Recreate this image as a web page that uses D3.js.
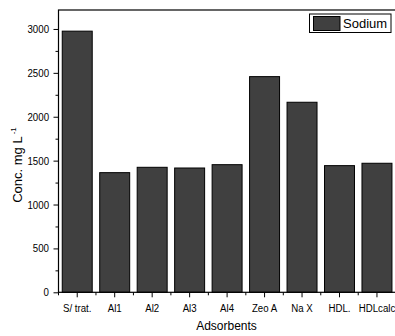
<!DOCTYPE html>
<html>
<head>
<meta charset="utf-8">
<script src="https://cdn.jsdelivr.net/npm/d3@7"></script>
<style>
  html, body { margin: 0; padding: 0; background: #fff; }
  svg { display: block; }
  .tick-label { font-family: "Liberation Sans", Arial, sans-serif; font-size: 11px; fill: #000; }
  .title { font-family: "Liberation Sans", Arial, sans-serif; font-size: 12px; fill: #000; }
</style>
</head>
<body>
<svg id="chart" width="395" height="336"></svg>
<script>
// Sodium concentration remaining after treatment with each adsorbent
const categories = ["S/ trat.", "Al1", "Al2", "Al3", "Al4", "Zeo A", "Na X", "HDL.", "HDLcalc"];
const sodium = [2975, 1363, 1424, 1416, 1454, 2457, 2165, 1443, 1470];
const yTicks = [0, 500, 1000, 1500, 2000, 2500, 3000];
const yMinorTicks = [250, 750, 1250, 1750, 2250, 2750];
const yMax = 3216;
const seriesName = "Sodium";

const svg = d3.select("#chart");
const plot = { left: 58.5, right: 395.7, top: 10, bottom: 292.3 };
const barFill = "#404040";
const squeeze = 0.88; // condensed look for tick labels

const x = d3.scaleBand().domain(categories).range([plot.left, plot.right]).paddingInner(0.2).paddingOuter(0.1);
const y = d3.scaleLinear().domain([0, yMax]).range([plot.bottom, plot.top]);

// bars
svg.append("g").selectAll("rect").data(categories).join("rect")
  .attr("x", (d) => x(d))
  .attr("y", (d, i) => y(sodium[i]))
  .attr("width", x.bandwidth())
  .attr("height", (d, i) => y(0) - y(sodium[i]))
  .attr("fill", barFill)
  .attr("stroke", "#000")
  .attr("stroke-width", 1);

// frame
svg.append("rect")
  .attr("x", plot.left).attr("y", plot.top)
  .attr("width", plot.right - plot.left).attr("height", plot.bottom - plot.top)
  .attr("fill", "none").attr("stroke", "#000").attr("stroke-width", 1.2);

// y axis: major ticks with labels, minor ticks between
const yAxis = svg.append("g").attr("transform", `translate(${plot.left},0)`);
yAxis.append("g")
  .call(d3.axisLeft(y).tickValues(yTicks).tickSize(5).tickPadding(4).tickFormat(d3.format("d")))
  .call((g) => g.select(".domain").remove())
  .call((g) => g.selectAll("text")
    .attr("class", "tick-label").attr("font-family", null).attr("font-size", null)
    .attr("x", -9.5 / squeeze)
    .attr("transform", `scale(${squeeze},1)`));
yAxis.append("g")
  .call(d3.axisLeft(y).tickValues(yMinorTicks).tickSize(3).tickFormat(""))
  .call((g) => g.select(".domain").remove());

// x axis: major ticks at categories, minor ticks between bands
const step = x.step();
const xAxis = svg.append("g").attr("transform", `translate(0,${plot.bottom})`);
xAxis.append("g")
  .call(d3.axisBottom(x).tickSize(5).tickPadding(7).tickSizeOuter(0))
  .call((g) => g.select(".domain").remove())
  .call((g) => g.selectAll("text")
    .attr("class", "tick-label").attr("font-family", null).attr("font-size", null)
    .attr("transform", `scale(${squeeze},1)`));
const minorX = categories.map((c) => x(c) + x.bandwidth() / 2 - step / 2);
xAxis.append("g").selectAll("line").data(minorX).join("line")
  .attr("x1", (d) => d).attr("x2", (d) => d)
  .attr("y1", 0).attr("y2", 3)
  .attr("stroke", "#000");

// axis titles
svg.append("text").attr("class", "title")
  .attr("x", 226.5).attr("y", 330)
  .attr("text-anchor", "middle")
  .text("Adsorbents");

const yTitle = svg.append("text").attr("class", "title")
  .attr("transform", "translate(22,165) rotate(-90)")
  .attr("text-anchor", "middle")
  .style("font-size", "13px");
yTitle.append("tspan").text("Conc. mg L");
yTitle.append("tspan").attr("dy", -6).attr("dx", 2).style("font-size", "8px").text("-1");

// legend
const legend = svg.append("g").attr("transform", "translate(309.5,14)");
legend.append("rect").attr("width", 81.5).attr("height", 18.5)
  .attr("fill", "#fff").attr("stroke", "#000").attr("stroke-width", 1);
legend.append("rect").attr("x", 4).attr("y", 2.5).attr("width", 26.5).attr("height", 14)
  .attr("fill", barFill).attr("stroke", "#000").attr("stroke-width", 1);
legend.append("text").attr("class", "title")
  .attr("x", 33.5).attr("y", 14).style("font-size", "13px")
  .text(seriesName);
</script>
</body>
</html>
